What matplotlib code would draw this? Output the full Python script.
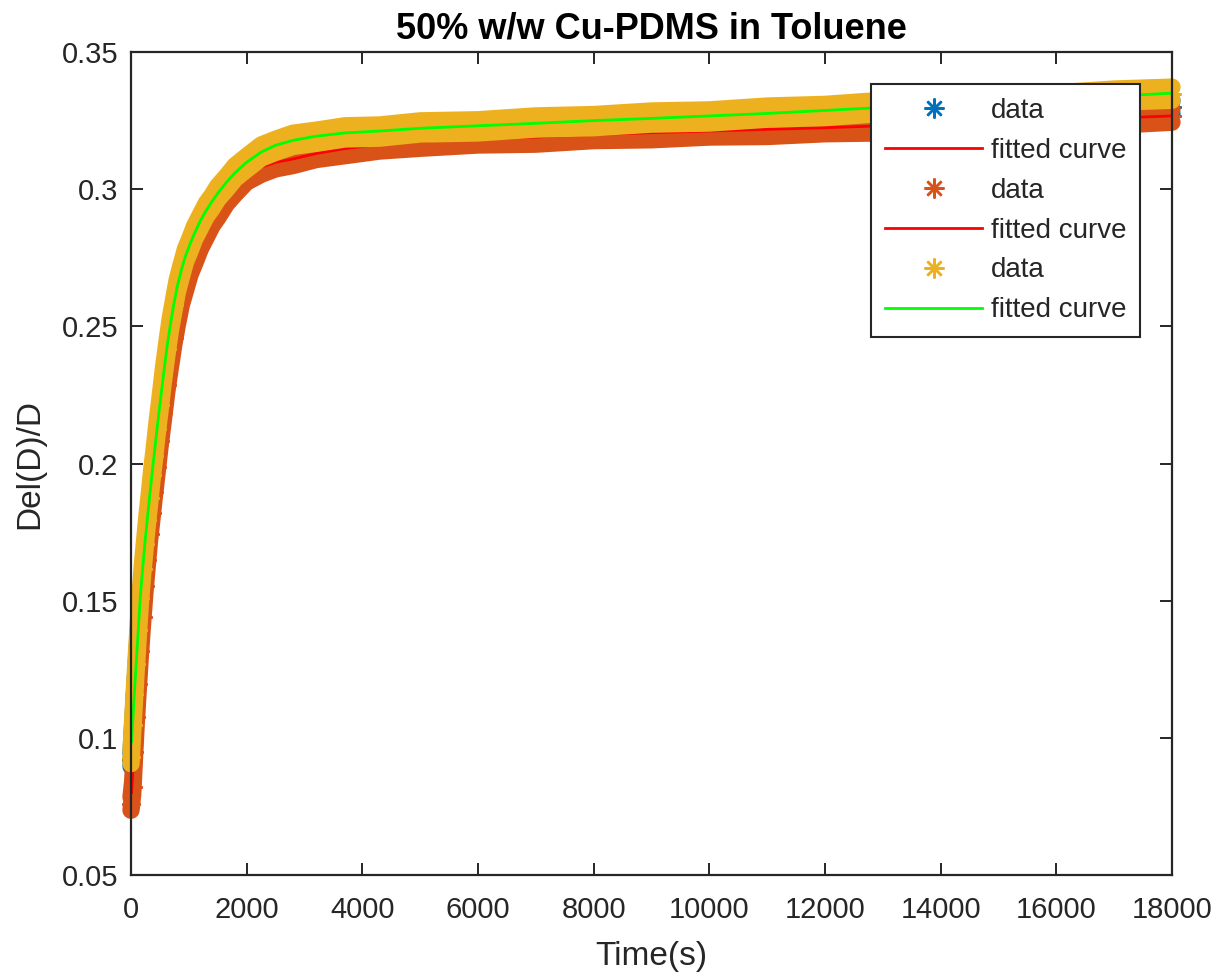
import matplotlib
matplotlib.use("Agg")
import matplotlib.pyplot as plt
import numpy as np

# ---------------- data ----------------
TITLE = "50% w/w Cu-PDMS in Toluene"
XLABEL = "Time(s)"
YLABEL = "Del(D)/D"

x_ticks = [0, 2000, 4000, 6000, 8000, 10000, 12000, 14000, 16000, 18000]
x_tick_labels = ["0", "2000", "4000", "6000", "8000", "10000", "12000", "14000", "16000", "18000"]
y_ticks = [0.05, 0.1, 0.15, 0.2, 0.25, 0.3, 0.35]
y_tick_labels = ["0.05", "0.1", "0.15", "0.2", "0.25", "0.3", "0.35"]

t_data = [0, 30, 60, 90, 125, 160, 200, 240, 280, 320, 360, 400, 450, 500, 560, 620, 680,
          740, 800, 870, 940, 1020, 1100, 1200, 1300, 1400, 1500, 1650, 1800, 2000, 2250,
          2500, 2800, 3200, 3700, 4300, 5000, 6000, 7000, 8000, 9000, 10000, 11000, 12000,
          13000, 14000, 15000, 16000, 17000, 18000]
t_fit = [10] + t_data[1:]

# series 1 (blue data, red fit) - mostly hidden below the other two
data1 = [0.0920, 0.1030, 0.1140, 0.1245, 0.1360, 0.1475, 0.1580, 0.1675, 0.1760, 0.1842,
         0.1920, 0.1995, 0.2088, 0.2178, 0.2282, 0.2380, 0.2466, 0.2542, 0.2608, 0.2670,
         0.2722, 0.2770, 0.2812, 0.2857, 0.2896, 0.2930, 0.2961, 0.3001, 0.3036, 0.3075,
         0.3110, 0.3134, 0.3152, 0.3167, 0.3178, 0.3186, 0.3195, 0.3204, 0.3213, 0.3222,
         0.3230, 0.3238, 0.3246, 0.3255, 0.3264, 0.3272, 0.3280, 0.3287, 0.3293, 0.3298]
fit1 = [0.0950, 0.1030, 0.1140, 0.1245, 0.1360, 0.1475, 0.1580, 0.1675, 0.1760, 0.1842,
        0.1920, 0.1995, 0.2088, 0.2178, 0.2282, 0.2380, 0.2466, 0.2542, 0.2608, 0.2670,
        0.2722, 0.2770, 0.2812, 0.2857, 0.2896, 0.2930, 0.2961, 0.3001, 0.3036, 0.3075,
        0.3110, 0.3134, 0.3152, 0.3167, 0.3178, 0.3186, 0.3195, 0.3204, 0.3213, 0.3222,
        0.3230, 0.3238, 0.3246, 0.3255, 0.3264, 0.3272, 0.3280, 0.3287, 0.3293, 0.3298]

# series 2 (orange data, red fit)
data2 = [0.0760, 0.0820, 0.0950, 0.1075, 0.1198, 0.1318, 0.1440, 0.1552, 0.1648, 0.1742,
         0.1818, 0.1897, 0.1988, 0.2082, 0.2183, 0.2287, 0.2373, 0.2457, 0.2528, 0.2602,
         0.2653, 0.2712, 0.2753, 0.2807, 0.2848, 0.2890, 0.2920, 0.2970, 0.3006, 0.3050,
         0.3078, 0.3098, 0.3110, 0.3132, 0.3146, 0.3163, 0.3173, 0.3185, 0.3188, 0.3201,
         0.3204, 0.3214, 0.3216, 0.3226, 0.3229, 0.3240, 0.3243, 0.3254, 0.3257, 0.3268]
fit2 = [0.0800, 0.0870, 0.0975, 0.1080, 0.1200, 0.1320, 0.1440, 0.1550, 0.1650, 0.1740,
        0.1820, 0.1895, 0.1990, 0.2080, 0.2185, 0.2285, 0.2375, 0.2455, 0.2530, 0.2600,
        0.2655, 0.2710, 0.2755, 0.2805, 0.2850, 0.2888, 0.2922, 0.2968, 0.3008, 0.3048,
        0.3080, 0.3098, 0.3110, 0.3130, 0.3148, 0.3163, 0.3175, 0.3183, 0.3190, 0.3199,
        0.3206, 0.3212, 0.3218, 0.3224, 0.3231, 0.3238, 0.3245, 0.3252, 0.3259, 0.3267]

# series 3 (yellow data, green fit)
data3 = [0.0930, 0.1045, 0.1160, 0.1270, 0.1392, 0.1508, 0.1615, 0.1706, 0.1795, 0.1873,
         0.1957, 0.2028, 0.2127, 0.2213, 0.2322, 0.2418, 0.2507, 0.2578, 0.2647, 0.2703,
         0.2757, 0.2798, 0.2842, 0.2883, 0.2924, 0.2953, 0.2987, 0.3023, 0.3062, 0.3096,
         0.3137, 0.3158, 0.3180, 0.3191, 0.3207, 0.3210, 0.3225, 0.3229, 0.3243, 0.3248,
         0.3261, 0.3265, 0.3279, 0.3285, 0.3300, 0.3307, 0.3321, 0.3327, 0.3341, 0.3348]
fit3 = [0.0986, 0.1060, 0.1168, 0.1272, 0.1390, 0.1510, 0.1613, 0.1708, 0.1793, 0.1875,
        0.1955, 0.2030, 0.2125, 0.2215, 0.2320, 0.2420, 0.2505, 0.2580, 0.2645, 0.2705,
        0.2755, 0.2800, 0.2840, 0.2885, 0.2922, 0.2955, 0.2985, 0.3025, 0.3060, 0.3098,
        0.3135, 0.3160, 0.3178, 0.3193, 0.3205, 0.3212, 0.3222, 0.3231, 0.3240, 0.3250,
        0.3258, 0.3267, 0.3276, 0.3287, 0.3298, 0.3309, 0.3319, 0.3329, 0.3339, 0.3350]

data_colors = ["#0072BD", "#D95319", "#EDB120"]
fit_colors = ["#FF0000", "#FF0000", "#00FF00"]

# ---------------- styling ----------------
plt.rcParams["font.family"] = ["Liberation Sans", "DejaVu Sans"]
AX_COLOR = "#262626"
BAND_LW = 12.5          # width of one marker (points)
BAND_SPREAD = 0.0024    # scatter half-height of the marker cloud (data units)
ASTERISK = (8, 2, 0)

fig = plt.figure(figsize=(12.22, 9.8), dpi=100)
ax = fig.add_axes([131 / 1222, 1 - 875 / 980, (1172 - 131) / 1222, (875 - 52) / 980])

series = [(data1, fit1), (data2, fit2), (data3, fit3)]
handles = []
for i, ((dat, fit), dc, fc) in enumerate(zip(series, data_colors, fit_colors)):
    z = 2 + i
    td = np.asarray(t_data, float)
    yd = np.asarray(dat, float)
    ax.fill_between(td, yd - BAND_SPREAD, yd + BAND_SPREAD, color=dc, lw=0,
                    clip_on=False, zorder=z)
    for off in (-BAND_SPREAD, BAND_SPREAD):
        ax.plot(td, yd + off, color=dc, lw=BAND_LW, solid_capstyle="round",
                solid_joinstyle="round", clip_on=False, zorder=z)
    hd, = ax.plot(td, yd, ls="none", marker=ASTERISK, ms=13, mew=1.8, color=dc,
                  clip_on=False, label="data", zorder=z)
    hf, = ax.plot(t_fit, fit, color=fc, lw=2.0, label="fitted curve", zorder=z + 0.5)
    handles += [hd, hf]

ax.set_xlim(0, 18000)
ax.set_ylim(0.05, 0.35)
ax.set_xticks(x_ticks)
ax.set_xticklabels(x_tick_labels)
ax.set_yticks(y_ticks)
ax.set_yticklabels(y_tick_labels)

for s in ax.spines.values():
    s.set_color(AX_COLOR)
    s.set_linewidth(1.6)
    s.set_zorder(10)
ax.tick_params(direction="in", length=8.5, width=1.4, colors=AX_COLOR,
               labelsize=21, top=True, right=True)
ax.tick_params(axis="x", pad=15)
ax.tick_params(axis="y", pad=9)
for lab in ax.get_xticklabels() + ax.get_yticklabels():
    lab.set_color(AX_COLOR)

ax.set_title(TITLE, fontsize=26, fontweight="bold", color="black", pad=10)
ax.set_xlabel(XLABEL, fontsize=24, color=AX_COLOR, labelpad=12)
ax.set_ylabel(YLABEL, fontsize=24, color=AX_COLOR, labelpad=12)

leg = ax.legend(handles=handles, loc="upper right",
                bbox_to_anchor=((1140 - 131) / 1041, (875 - 84) / 823),
                borderaxespad=0, fontsize=20, frameon=True, fancybox=False,
                handlelength=3.5, handletextpad=0.3, labelspacing=0.5,
                borderpad=0.5, markerscale=1.1)
leg.set_zorder(20)
leg.get_frame().set_edgecolor(AX_COLOR)
leg.get_frame().set_linewidth(1.5)
leg.get_frame().set_alpha(1.0)
for txt in leg.get_texts():
    txt.set_color(AX_COLOR)

fig.savefig("out.png", dpi=100)
